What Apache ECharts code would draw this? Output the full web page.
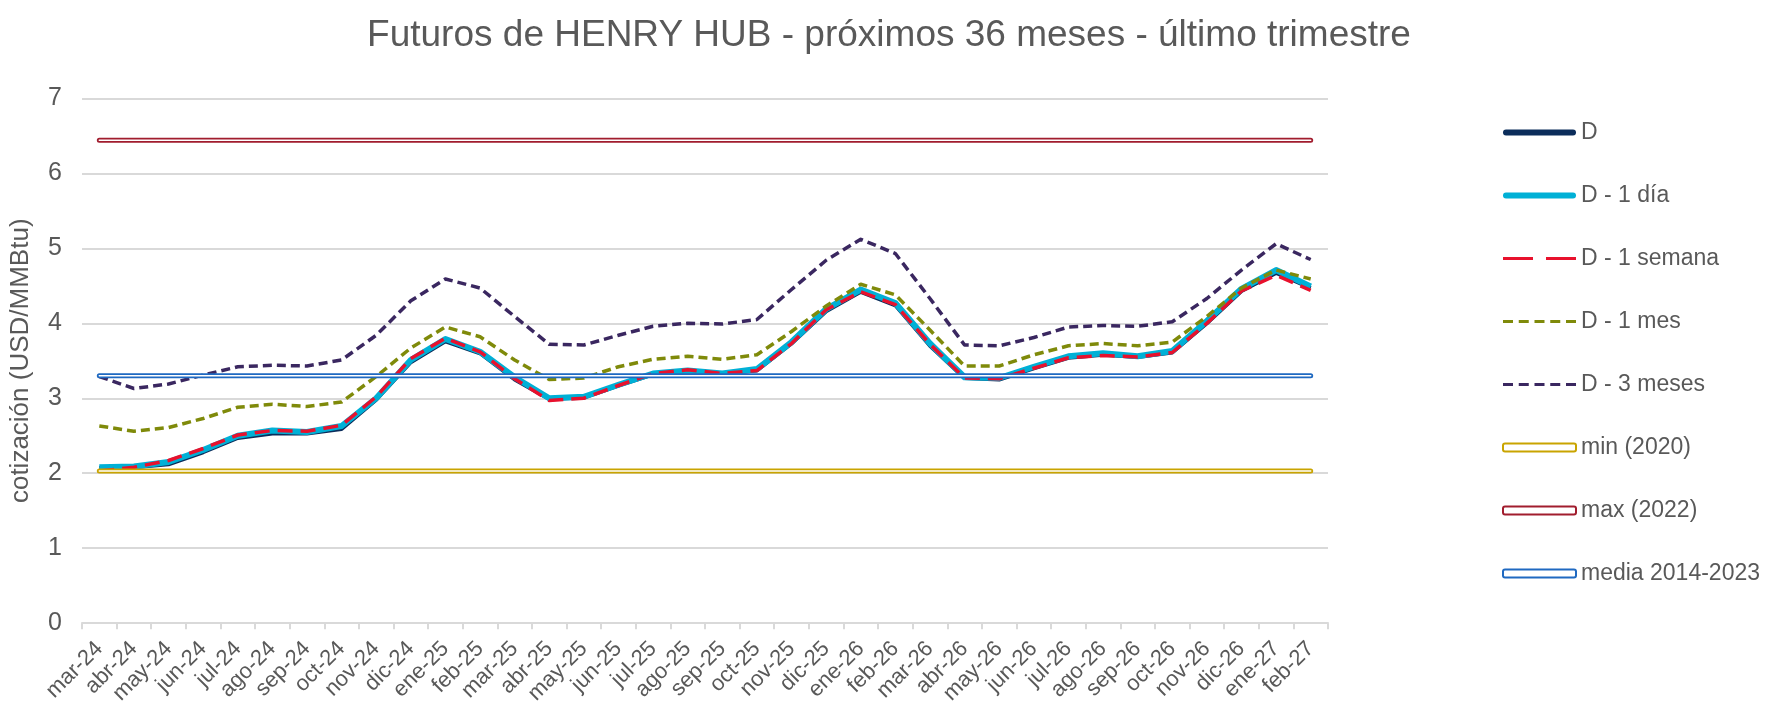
<!DOCTYPE html>
<html><head><meta charset="utf-8">
<script src="https://cdn.jsdelivr.net/npm/echarts@6/dist/echarts.min.js"></script>
<style>html,body{margin:0;padding:0;background:#fff;}#c{width:1765px;height:707px;}</style>
</head><body><div id="c"></div>
<script>
const categories = ['mar-24','abr-24','may-24','jun-24','jul-24','ago-24','sep-24','oct-24','nov-24','dic-24','ene-25','feb-25','mar-25','abr-25','may-25','jun-25','jul-25','ago-25','sep-25','oct-25','nov-25','dic-25','ene-26','feb-26','mar-26','abr-26','may-26','jun-26','jul-26','ago-26','sep-26','oct-26','nov-26','dic-26','ene-27','feb-27'];
const serieD = [2.07,2.08,2.12,2.28,2.47,2.53,2.53,2.59,2.98,3.48,3.76,3.60,3.25,2.99,3.01,3.17,3.32,3.36,3.33,3.37,3.73,4.16,4.42,4.24,3.70,3.27,3.25,3.40,3.54,3.58,3.55,3.61,4.00,4.43,4.67,4.47];
const serieD1dia = [2.08,2.09,2.15,2.31,2.50,2.57,2.55,2.63,3.00,3.51,3.79,3.62,3.28,3.00,3.02,3.18,3.33,3.37,3.33,3.39,3.75,4.19,4.45,4.27,3.73,3.28,3.27,3.42,3.56,3.60,3.56,3.63,4.03,4.46,4.71,4.49];
const serieD1semana = [2.03,2.08,2.17,2.33,2.51,2.57,2.56,2.64,3.02,3.53,3.80,3.62,3.26,2.97,3.00,3.17,3.33,3.38,3.33,3.37,3.73,4.18,4.42,4.25,3.72,3.27,3.26,3.40,3.54,3.57,3.55,3.61,4.00,4.43,4.64,4.44];
const serieD1mes = [2.63,2.56,2.61,2.73,2.88,2.92,2.89,2.95,3.29,3.67,3.95,3.82,3.51,3.25,3.27,3.42,3.52,3.56,3.52,3.58,3.89,4.23,4.52,4.38,3.91,3.43,3.43,3.58,3.70,3.73,3.70,3.75,4.09,4.47,4.71,4.59];
const serieD3meses = [3.29,3.13,3.19,3.31,3.42,3.44,3.43,3.51,3.84,4.30,4.59,4.47,4.09,3.72,3.71,3.84,3.96,4.00,3.99,4.05,4.45,4.84,5.12,4.93,4.33,3.71,3.70,3.81,3.95,3.97,3.96,4.02,4.33,4.71,5.06,4.85];
const minValue = 2.03;
const maxValue = 6.44;
const mediaValue = 3.30;
const yTicks = [0,1,2,3,4,5,6,7];

const names = ['D','D - 1 día','D - 1 semana','D - 1 mes','D - 3 meses','min (2020)','max (2022)','media 2014-2023'];
const colD = '#0b2d5b', colCyan = '#00b0d6', colRed = '#e8112d', colOlive = '#7f8a0a', colPurple = '#3a2760';
const colMin = '#c9a400', colMax = '#a11d2e', colMedia = '#1f69c1';

const txt = '#595959';
const font = 'Liberation Sans, Arial, sans-serif';

const iconSolid = 'path://M3,0 H70 A3,3 0 0 1 70,6 H3 A3,3 0 0 1 3,0 Z';
const iconLongDash = 'path://M0,0 H30 V3 H0 Z M43,0 H73 V3 H43 Z';
const iconShortDash = 'path://M0,0 H10 V3 H0 Z M15.75,0 H25.75 V3 H15.75 Z M31.5,0 H41.5 V3 H31.5 Z M47.25,0 H57.25 V3 H47.25 Z M63,0 H73 V3 H63 Z';

function lineSeries(name, data, color, width, type, z) {
  return { name, type: 'line', data, symbol: 'none', showSymbol: false, z,
    lineStyle: { color, width, type, cap: 'butt', join: 'round' }, itemStyle: { color }, emphasis: { disabled: true } };
}
function refSeries(name, value, color, z) {
  const d = categories.map(() => value);
  return [
    { name, type: 'line', data: d, symbol: 'none', z, lineStyle: { color, width: 5, cap: 'round' }, itemStyle: { color }, emphasis: { disabled: true } },
    { name: name + ' _in', type: 'line', data: d, symbol: 'none', z: z + 0.5, lineStyle: { color: '#ffffff', width: 1.5, cap: 'round' }, itemStyle: { color: '#ffffff' }, emphasis: { disabled: true } }
  ];
}

const chart = echarts.init(document.getElementById('c'), null, { renderer: 'canvas' });
chart.setOption({
  animation: false,
  backgroundColor: '#ffffff',
  textStyle: { fontFamily: font },
  title: { text: 'Futuros de HENRY HUB - próximos 36 meses - último trimestre', left: 884, textAlign: 'center', top: 12,
    textStyle: { fontFamily: font, fontSize: 37, fontWeight: 'normal', color: txt } },
  grid: { left: 81, right: 437, top: 98.3, bottom: 83.7, containLabel: false },
  legend: {
    orient: 'vertical', left: 1497, top: 116, itemWidth: 73, itemHeight: 8, itemGap: 40,
    textStyle: { fontFamily: font, fontSize: 23, color: txt },
    selectedMode: false,
    data: [
      { name: names[0], icon: iconSolid, itemStyle: { color: colD } },
      { name: names[1], icon: iconSolid, itemStyle: { color: colCyan } },
      { name: names[2], icon: iconLongDash, itemStyle: { color: colRed } },
      { name: names[3], icon: iconShortDash, itemStyle: { color: colOlive } },
      { name: names[4], icon: iconShortDash, itemStyle: { color: colPurple } },
      { name: names[5], icon: 'roundRect', itemStyle: { color: '#ffffff', borderColor: colMin, borderWidth: 2 } },
      { name: names[6], icon: 'roundRect', itemStyle: { color: '#ffffff', borderColor: colMax, borderWidth: 2 } },
      { name: names[7], icon: 'roundRect', itemStyle: { color: '#ffffff', borderColor: colMedia, borderWidth: 2 } }
    ]
  },
  xAxis: {
    type: 'category', data: categories, boundaryGap: true,
    axisLine: { show: true, lineStyle: { color: '#d9d9d9', width: 2 } },
    axisTick: { show: true, alignWithLabel: false, length: 6, lineStyle: { color: '#d9d9d9', width: 2 } },
    axisLabel: { rotate: 45, interval: 0, fontSize: 22, color: txt, fontFamily: font, margin: 22 },
    splitLine: { show: false }
  },
  yAxis: {
    type: 'value', min: yTicks[0], max: yTicks[yTicks.length - 1], interval: 1,
    name: 'cotización (USD/MMBtu)', nameLocation: 'middle', nameGap: 48, nameRotate: 90,
    nameTextStyle: { fontFamily: font, fontSize: 26, color: txt },
    axisLine: { show: false }, axisTick: { show: false },
    axisLabel: { fontSize: 25, color: txt, fontFamily: font, margin: 20 },
    splitLine: { show: true, lineStyle: { color: '#d9d9d9', width: 2 } }
  },
  series: [
    lineSeries(names[0], serieD, colD, 4, 'solid', 2),
    lineSeries(names[1], serieD1dia, colCyan, 6, 'solid', 3),
    lineSeries(names[2], serieD1semana, colRed, 3.5, [15, 8], 4),
    lineSeries(names[3], serieD1mes, colOlive, 3.5, [9, 5], 5),
    lineSeries(names[4], serieD3meses, colPurple, 3.5, [9, 5], 6),
    ...refSeries(names[5], minValue, colMin, 7),
    ...refSeries(names[6], maxValue, colMax, 8),
    ...refSeries(names[7], mediaValue, colMedia, 9)
  ]
});
</script>
</body></html>
